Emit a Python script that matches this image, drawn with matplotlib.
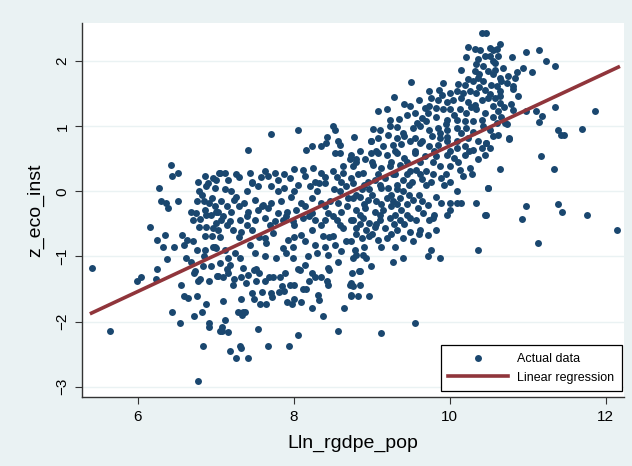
import numpy as np
import matplotlib
matplotlib.use("Agg")
from matplotlib import pyplot as plt

lln_rgdpe_pop = [
    # upper middle
    7.71, 8.06, 8.51, 8.53, 8.43, 8.57,
    10.41, 10.46, 10.23, 10.32, 10.39, 10.21, 10.36, 10.45, 10.34, 10.43, 10.14, 10.32, 10.38,
    9.50, 10.23, 10.30, 10.36, 10.43, 10.19, 9.91,
    9.74, 9.86, 10.00, 10.09, 10.17, 10.26, 10.34, 10.45,
    9.29, 9.42, 9.49, 9.76, 9.85, 9.96, 10.04, 10.15, 10.24, 10.32, 10.41,
    9.08, 9.20, 9.56, 9.68, 9.74, 9.83, 9.91, 10.00, 10.13, 10.21, 10.34, 10.45,
    9.23, 9.35, 9.23, 9.64, 9.70, 9.83, 9.96, 10.09, 10.19, 10.30, 10.41,
    9.02, 9.10, 9.32, 9.53, 9.62, 9.74, 9.85, 9.96, 10.09, 10.21, 10.43,
    8.77, 8.99, 9.08, 9.21, 9.32, 9.42, 9.55, 9.64, 9.77, 9.87, 9.96, 10.09, 10.24, 10.36,
    # upper right
    10.51, 10.56, 10.60, 10.64, 10.51, 10.62, 10.58, 10.49, 10.58, 10.56,
    10.80, 10.98, 11.15, 11.23, 11.35, 10.94, 11.06, 10.86, 10.83, 10.75, 10.64, 10.66,
    10.53, 10.60, 10.73, 10.81, 10.65, 10.81, 10.49, 10.58, 10.64, 10.88,
    10.56, 10.64, 10.79, 11.35, 11.86, 10.62, 10.81, 10.98, 11.11, 11.18,
    10.56, 10.66, 10.71, 10.73, 11.15, 11.39, 11.43, 11.47, 11.70, 10.62, 10.56, 10.76,
    # middle right
    10.47, 10.51, 10.45, 10.76, 11.17, 10.65, 11.33, 10.49, 10.98, 11.39, 11.44, 10.47,
    10.93, 11.76, 12.14, 11.13,
    # centre right
    8.99, 9.15, 9.27, 9.38, 9.49, 9.62, 9.74, 9.85, 9.96, 10.09, 10.19, 10.30, 10.41, 10.47,
    8.74, 8.80, 8.91, 8.99, 9.08, 9.19, 9.32, 9.42, 9.55, 9.68, 9.83, 9.96, 10.06, 10.19, 10.36,
    8.89, 9.02, 9.12, 9.23, 9.36, 9.49, 9.57, 9.70, 9.87, 10.00, 10.13, 10.26,
    8.76, 8.95, 9.04, 9.17, 9.27, 9.40, 9.51, 9.64, 9.76, 9.89, 10.00, 10.17, 10.28,
    8.87, 8.97, 9.12, 9.21, 9.32, 9.40, 10.09, 10.49,
    8.76, 8.85, 8.95, 9.06, 9.19, 9.27, 9.36, 9.53, 9.64, 9.72, 9.83, 9.89, 10.00, 10.09, 10.15, 10.34,
    8.80, 8.91, 9.04, 9.15, 9.25, 9.38, 9.59, 9.66, 10.00, 9.96, 10.45,
    8.76, 8.89, 8.97, 9.10, 9.23, 9.36, 9.49, 9.57, 9.74, 9.79,
    8.80, 8.93, 9.04, 9.17, 9.32, 9.49, 9.62, 9.83,
    8.87, 8.97, 9.08, 9.19, 9.40, 9.53, 9.72, 8.74, 8.78, 9.76, 10.36,
    8.80, 8.89, 8.93, 9.27, 9.40, 9.72, 9.88, 8.76, 8.99, 8.85,
    # centre
    7.41, 8.16, 8.23, 8.35, 8.42, 8.53, 8.60, 8.59, 8.63, 8.72, 8.76,
    7.05, 7.12, 7.26, 7.44, 7.63, 7.76, 7.88, 8.01, 8.12, 8.25, 8.35, 8.50, 8.63,
    7.01, 7.16, 7.46, 7.67, 7.80, 7.95, 8.14, 8.27, 8.40, 8.61, 8.74,
    7.12, 7.26, 7.46, 7.54, 7.71, 7.88, 8.06, 8.21, 8.33, 8.52, 8.67,
    7.07, 7.24, 7.37, 7.50, 7.61, 7.71, 7.84, 7.97, 8.10, 8.23, 8.35, 8.46, 8.57, 8.70,
    7.03, 7.20, 7.41, 7.54, 7.67, 7.80, 7.91, 8.03, 8.23, 8.44, 8.61,
    7.07, 7.18, 7.31, 7.50, 7.63, 7.76, 7.86, 7.99, 8.12, 8.27, 8.40, 8.55, 8.74,
    7.03, 7.22, 7.33, 7.46, 7.63, 7.73, 7.93, 8.10, 8.23, 8.38, 8.50, 8.63,
    6.99, 7.12, 7.44, 7.65, 7.86, 7.99, 8.14, 8.27, 8.40, 8.53, 8.67,
    7.16, 7.31, 7.63, 7.78, 7.99, 8.18, 8.44, 8.61,
    7.18, 7.35, 7.52, 8.06, 8.14, 8.44, 8.57,
    # centre left
    6.43, 6.44, 6.52, 6.28, 6.77, 6.86, 6.90, 6.97, 7.04, 6.79, 6.88, 6.99,
    6.30, 6.37, 6.39, 6.52, 6.76, 6.85, 6.92, 6.99, 6.69, 6.75, 6.87, 6.94, 7.01,
    6.71, 6.88, 7.01, 6.16, 6.79, 6.88, 6.97,
    6.25, 6.35, 6.32, 6.47, 6.57, 6.63, 6.60, 6.71, 6.76, 6.87, 6.87, 6.97, 7.01,
    6.38, 6.62, 6.69, 5.42, 6.25, 6.73, 6.84, 6.94,
    # lower left
    5.99, 6.04, 6.24, 6.72, 6.77, 6.80, 6.91, 7.02, 6.56, 6.59, 6.64, 6.76, 6.88,
    6.44, 6.54, 6.72, 6.83, 5.65, 6.92, 6.92, 7.05, 6.84, 6.77,
    # lower middle
    7.03, 7.09, 7.16, 7.22, 7.24, 7.33, 7.39, 7.41, 7.49, 7.52, 7.63, 7.69, 7.73, 7.82,
    7.89, 7.95, 8.01, 8.08, 8.12, 8.16, 8.23, 8.27, 8.35, 8.43, 8.44, 8.45, 8.72, 8.74,
    7.09, 7.33, 7.47, 7.49, 7.57, 7.64, 7.71, 7.72, 7.81, 7.88, 7.91, 7.98, 8.09, 8.24,
    8.31, 8.33, 8.38, 8.65, 7.29, 7.35, 7.38, 7.34, 7.12, 7.08, 7.08, 7.16, 7.54, 8.05,
    8.57, 7.19, 7.31, 7.32, 7.67, 7.94, 7.26, 7.41,
    # lower right
    8.75, 8.84, 8.74, 8.76, 8.85, 8.74, 8.82, 8.97, 9.12, 9.55,
    # overlapping points in the crowded band
    9.45, 9.60, 9.72, 9.90, 10.05, 10.27, 10.38, 10.10, 9.95, 9.58, 9.40, 9.88, 10.15, 10.30,
    10.52, 10.68, 10.55, 10.70, 10.60, 10.52,
    8.85, 9.05, 9.30, 9.55, 9.80, 10.00, 10.25,
    8.80, 9.00, 9.25, 9.45, 9.62, 9.78, 10.10,
    8.82, 9.08, 9.30, 9.45, 9.62, 9.78, 9.95,
    8.90, 9.10, 9.33, 9.48, 9.70, 9.92,
    8.80, 9.00, 9.25, 9.48, 9.60,
    8.90, 9.12, 9.32, 9.45,
    8.85, 9.10, 9.30, 9.45, 9.80,
    8.85, 9.05, 9.28, 9.42,
    8.80, 9.00, 9.25, 9.60,
    8.90, 9.12, 9.30,
    7.30, 7.58, 8.40, 8.55,
    7.20, 7.40, 7.80, 8.00, 8.30, 8.60,
    7.15, 7.30, 7.60, 8.15, 8.40, 8.68,
    7.10, 7.40, 7.90, 8.20, 8.50,
    7.15, 7.40, 7.70, 8.00, 8.35, 8.60,
    7.05, 7.30, 7.55, 8.00, 8.45,
    7.25, 7.50, 7.90, 8.30,
    6.82, 6.95, 6.80, 6.95, 6.85, 7.05,
    7.15, 7.55, 7.85, 8.20, 7.60, 8.00,
]

z_eco_inst = [
    # upper middle
    0.88, 0.94, 1.00, 0.94, 0.83, 0.78,
    2.43, 2.43, 2.22, 2.19, 2.18, 2.07, 2.03, 2.08, 1.95, 1.92, 1.86, 1.85, 1.80,
    1.68, 1.72, 1.69, 1.74, 1.69, 1.64, 1.67,
    1.54, 1.56, 1.51, 1.54, 1.51, 1.54, 1.51, 1.56,
    1.45, 1.35, 1.31, 1.44, 1.41, 1.38, 1.41, 1.44, 1.38, 1.33, 1.41,
    1.24, 1.26, 1.21, 1.28, 1.31, 1.28, 1.26, 1.26, 1.26, 1.21, 1.26, 1.21,
    1.10, 1.11, 1.00, 1.13, 1.08, 1.15, 1.10, 1.10, 1.08, 1.08, 1.10,
    0.96, 0.95, 0.99, 0.97, 1.00, 0.95, 0.97, 0.95, 0.97, 0.97, 1.00,
    0.84, 0.77, 0.82, 0.87, 0.82, 0.85, 0.82, 0.77, 0.85, 0.82, 0.83, 0.77, 0.82, 0.77,
    # upper right
    2.21, 2.18, 2.19, 2.27, 2.08, 2.08, 1.97, 1.85, 1.87, 1.80,
    2.07, 2.14, 2.18, 2.00, 1.92, 1.89, 1.83, 1.83, 1.74, 1.77, 1.74, 1.69,
    1.64, 1.62, 1.67, 1.62, 1.54, 1.57, 1.44, 1.44, 1.46, 1.47,
    1.31, 1.36, 1.35, 1.29, 1.24, 1.23, 1.25, 1.23, 1.24, 1.16,
    1.15, 1.15, 1.05, 1.03, 1.06, 0.94, 0.87, 0.87, 0.96, 0.87, 0.85, 0.82,
    # middle right
    0.74, 0.67, 0.56, 0.80, 0.55, 0.34, 0.34, 0.05, -0.23, -0.19, -0.31, -0.37,
    -0.43, -0.37, -0.59, -0.79,
    # centre right
    0.77, 0.69, 0.72, 0.73, 0.77, 0.74, 0.69, 0.72, 0.77, 0.67, 0.69, 0.64, 0.67, 0.74,
    0.56, 0.49, 0.49, 0.59, 0.59, 0.56, 0.59, 0.51, 0.59, 0.54, 0.54, 0.56, 0.51, 0.56, 0.49,
    0.28, 0.41, 0.36, 0.39, 0.41, 0.31, 0.33, 0.31, 0.39, 0.39, 0.33, 0.36,
    0.13, 0.15, 0.18, 0.21, 0.26, 0.18, 0.15, 0.19, 0.15, 0.21, 0.15, 0.23, 0.26,
    0.03, 0.03, 0.05, 0.05, 0.03, 0.00, 0.00, 0.05,
    -0.10, -0.08, -0.13, -0.15, -0.10, -0.15, -0.10, -0.13, -0.15, -0.21, -0.08, -0.18, -0.18, -0.18, -0.18, -0.18,
    -0.28, -0.26, -0.31, -0.28, -0.23, -0.28, -0.26, -0.33, -0.28, -0.37, -0.37,
    -0.44, -0.41, -0.49, -0.44, -0.41, -0.44, -0.41, -0.44, -0.44, -0.41,
    -0.56, -0.59, -0.54, -0.56, -0.59, -0.62, -0.59, -0.59,
    -0.72, -0.69, -0.74, -0.72, -0.72, -0.77, -0.67, -0.77, -0.90, -0.90, -0.90,
    -0.97, -0.97, -1.03, -1.08, -1.02, -1.00, -1.03, -1.03, -1.14, -1.22,
    # centre
    0.64, 0.64, 0.70, 0.70, 0.75, 0.59, 0.72, 0.59, 0.39, 0.49, 0.39,
    0.28, 0.28, 0.27, 0.28, 0.31, 0.28, 0.27, 0.34, 0.33, 0.36, 0.28, 0.31, 0.28,
    0.18, 0.18, 0.15, 0.23, 0.18, 0.21, 0.23, 0.15, 0.13, 0.15, 0.21,
    0.03, -0.08, 0.13, 0.08, 0.08, 0.05, 0.10, 0.08, 0.13, 0.03, 0.08,
    -0.15, -0.13, -0.18, -0.13, -0.21, -0.18, -0.15, -0.08, -0.18, -0.10, -0.18, -0.15, -0.18, -0.10,
    -0.31, -0.31, -0.31, -0.28, -0.26, -0.33, -0.31, -0.28, -0.33, -0.33, -0.31,
    -0.44, -0.46, -0.44, -0.44, -0.41, -0.46, -0.44, -0.46, -0.41, -0.44, -0.44, -0.44, -0.44,
    -0.59, -0.59, -0.62, -0.59, -0.72, -0.64, -0.74, -0.67, -0.59, -0.69, -0.69, -0.56,
    -0.85, -0.90, -0.82, -0.79, -0.87, -0.85, -0.77, -0.82, -0.85, -0.82, -0.77,
    -1.03, -1.03, -1.00, -1.03, -1.03, -1.00, -0.97, -0.92,
    -1.13, -1.18, -1.20, -1.20, -1.13, -1.18, -1.08,
    # centre left
    0.41, 0.23, 0.28, 0.05, 0.15, 0.23, 0.13, 0.21, 0.28, 0.00, 0.08, 0.05,
    -0.15, -0.18, -0.26, -0.15, -0.15, -0.15, -0.18, -0.23, -0.31, -0.33, -0.28, -0.36, -0.31,
    -0.44, -0.36, -0.49, -0.55, -0.55, -0.54, -0.56,
    -0.75, -0.67, -0.85, -0.85, -0.67, -0.74, -0.82, -0.77, -0.90, -0.69, -0.90, -0.85, -0.87,
    -1.04, -1.03, -1.08, -1.17, -1.19, -1.23, -1.14, -1.15,
    # lower left
    -1.38, -1.32, -1.35, -1.26, -1.38, -1.35, -1.37, -1.30, -1.44, -1.61, -1.64, -1.61, -1.73,
    -1.85, -2.03, -1.91, -1.85, -2.14, -2.03, -2.09, -2.14, -2.38, -2.91,
    # lower middle
    -1.30, -1.31, -1.26, -1.44, -1.35, -1.31, -1.41, -1.28, -1.21, -1.37, -1.37, -1.32, -1.32, -1.32,
    -1.26, -1.44, -1.44, -1.21, -1.50, -1.50, -1.26, -1.31, -1.32, -1.38, -1.44, -1.21, -1.44, -1.59,
    -1.68, -1.66, -1.56, -1.66, -1.73, -1.73, -1.56, -1.62, -1.55, -1.53, -1.70, -1.73, -1.70, -1.79,
    -1.59, -1.67, -1.91, -1.79, -1.85, -1.85, -1.85, -1.90, -1.97, -2.09, -2.15, -2.16, -2.12, -2.21,
    -2.14, -2.45, -2.37, -2.40, -2.38, -2.38, -2.56, -2.56,
    # lower right
    -1.26, -1.22, -1.41, -1.46, -1.44, -1.61, -1.61, -1.61, -2.17, -2.03,
    # overlapping points in the crowded band
    1.18, 1.40, 1.20, 1.48, 1.18, 1.30, 1.60, 1.65, 1.03, 1.05, 0.90, 0.90, 0.90, 0.92,
    1.50, 1.90, 2.00, 1.30, 1.05, 0.95,
    0.62, 0.62, 0.62, 0.62, 0.62, 0.62, 0.62,
    0.45, 0.45, 0.45, 0.45, 0.45, 0.45, 0.45,
    0.27, 0.27, 0.27, 0.27, 0.27, 0.27, 0.27,
    0.10, 0.10, 0.10, 0.10, 0.10, 0.10,
    -0.05, -0.05, -0.05, -0.05, -0.05,
    -0.20, -0.20, -0.20, -0.20,
    -0.36, -0.36, -0.36, -0.36, -0.36,
    -0.50, -0.50, -0.50, -0.50,
    -0.65, -0.65, -0.65, -0.65,
    -0.85, -0.85, -0.85,
    0.22, 0.22, 0.22, 0.22,
    0.00, 0.00, 0.00, 0.00, 0.00, 0.00,
    -0.22, -0.22, -0.22, -0.22, -0.22, -0.22,
    -0.38, -0.38, -0.38, -0.38, -0.38,
    -0.52, -0.52, -0.52, -0.52, -0.52, -0.52,
    -0.70, -0.70, -0.70, -0.70, -0.70,
    -0.95, -0.95, -0.95, -0.95,
    -0.05, -0.10, -0.42, -0.68, -1.00, -1.10,
    -1.20, -1.25, -1.45, -1.38, -1.55, -1.65,
]

# end points of the fitted line as drawn
fit_x = [5.41, 12.16]
fit_y = [-1.87, 1.91]

navy = "#1a476f"
cranberry = "#90353b"
bg = "#eaf2f3"

plt.rcParams["font.family"] = ["Liberation Sans", "DejaVu Sans"]

fig = plt.figure(figsize=(6.32, 4.66), dpi=100, facecolor=bg)
ax = fig.add_axes([0.130, 0.148, 0.857, 0.803])
ax.set_facecolor("white")

ax.scatter(lln_rgdpe_pop, z_eco_inst, s=25, color=navy, linewidths=0, label="Actual data", zorder=3)
ax.plot(fit_x, fit_y, color=cranberry, lw=2.6, label="Linear regression", zorder=4)

ax.set_xlim(5.29, 12.23)
ax.set_ylim(-3.16, 2.59)
ax.set_xticks([6, 8, 10, 12])
ax.set_yticks([-3, -2, -1, 0, 1, 2])
ax.set_yticklabels(["\u22123", "\u22122", "\u22121", "0", "1", "2"], rotation=90, va="center")
ax.grid(axis="y", color=bg, lw=1.0, zorder=0)
ax.set_axisbelow(True)

for side in ["top", "right"]:
    ax.spines[side].set_visible(False)
for side in ["left", "bottom"]:
    ax.spines[side].set_color("#333333")
    ax.spines[side].set_linewidth(1.0)
ax.tick_params(labelsize=11, length=5, color="#333333", pad=4)

ax.set_xlabel("Lln_rgdpe_pop", fontsize=14, labelpad=8)
ax.set_ylabel("z_eco_inst", fontsize=14, labelpad=8)

leg = ax.legend(loc="lower right", bbox_to_anchor=(0.996, 0.016), fontsize=9,
                fancybox=False, framealpha=1, edgecolor="black", borderpad=0.6,
                handlelength=4.8, handletextpad=0.7, labelspacing=0.55, borderaxespad=0)
leg.get_frame().set_linewidth(0.9)

fig.savefig("out.png", dpi=100, facecolor=bg)
